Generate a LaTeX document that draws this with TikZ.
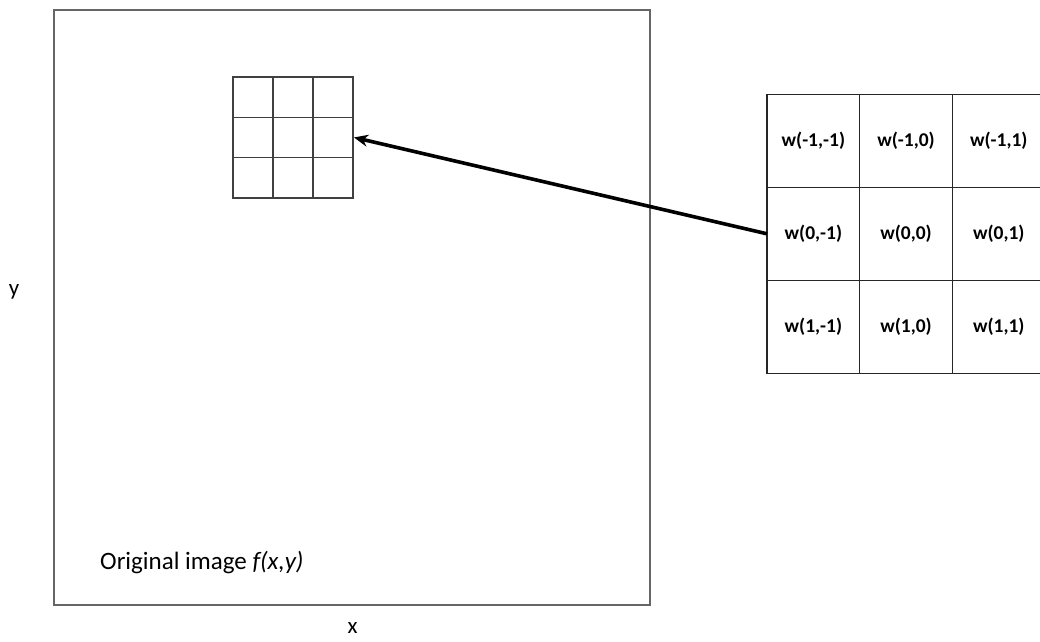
\documentclass[tikz,border=0pt]{standalone}
\usepackage{fontspec}
\setmainfont{Carlito}
\usetikzlibrary{arrows.meta}
\begin{document}
\begin{tikzpicture}[x=1pt,y=-1pt,
  framebox/.style={draw=black!60, line width=1.6pt},
  gridcell/.style={draw=black!75, line width=1.5pt, minimum width=40pt, minimum height=40.3pt, inner sep=0pt, outer sep=0pt},
  kcell/.style={draw=black!85, line width=1.2pt, minimum width=92.7pt, minimum height=93pt, inner sep=0pt, outer sep=0pt, font=\bfseries\fontsize{19.5}{22}\selectfont},
  axislabel/.style={font=\fontsize{23}{26}\selectfont, inner sep=0pt},
  pointer/.style={line width=3.6pt, -{Stealth[length=14pt,width=12pt]}}
]
\useasboundingbox (0,0) rectangle (1040,641);
\clip (0,0) rectangle (1040,641);

% original image frame
\node[framebox, minimum width=596pt, minimum height=595pt, inner sep=0pt, outer sep=0pt] (img) at (352,307.5) {};
\node[anchor=base west, inner sep=0pt, font=\fontsize{25}{28}\selectfont] (caption) at (100,569) {Original image \textit{f(x,y)}};

% axis labels
\node[axislabel] (xlab) at (352.7,628) {x};
\node[axislabel] (ylab) at (14,292) {y};

% 3x3 neighbourhood inside the image
\foreach \r in {1,2,3}{
  \foreach \c in {1,2,3}{
    \node[gridcell] (g\r\c) at ({233+40*(\c-0.5)}, {77+40.3*(\r-0.5)}) {};
  }
}

% filter mask
\node[kcell] (k11) at ({767+92.7*0.5},{94.3+93*0.5}) {w(-1,-1)};
\node[kcell] (k12) at ({767+92.7*1.5},{94.3+93*0.5}) {w(-1,0)};
\node[kcell] (k13) at ({767+92.7*2.5},{94.3+93*0.5}) {w(-1,1)};
\node[kcell] (k21) at ({767+92.7*0.5},{94.3+93*1.5}) {w(0,-1)};
\node[kcell] (k22) at ({767+92.7*1.5},{94.3+93*1.5}) {w(0,0)};
\node[kcell] (k23) at ({767+92.7*2.5},{94.3+93*1.5}) {w(0,1)};
\node[kcell] (k31) at ({767+92.7*0.5},{94.3+93*2.5}) {w(1,-1)};
\node[kcell] (k32) at ({767+92.7*1.5},{94.3+93*2.5}) {w(1,0)};
\node[kcell] (k33) at ({767+92.7*2.5},{94.3+93*2.5}) {w(1,1)};

% mask placed over the neighbourhood
\draw[pointer] (k21.west) -- ([xshift=1pt]g23.east);
\end{tikzpicture}
\end{document}
